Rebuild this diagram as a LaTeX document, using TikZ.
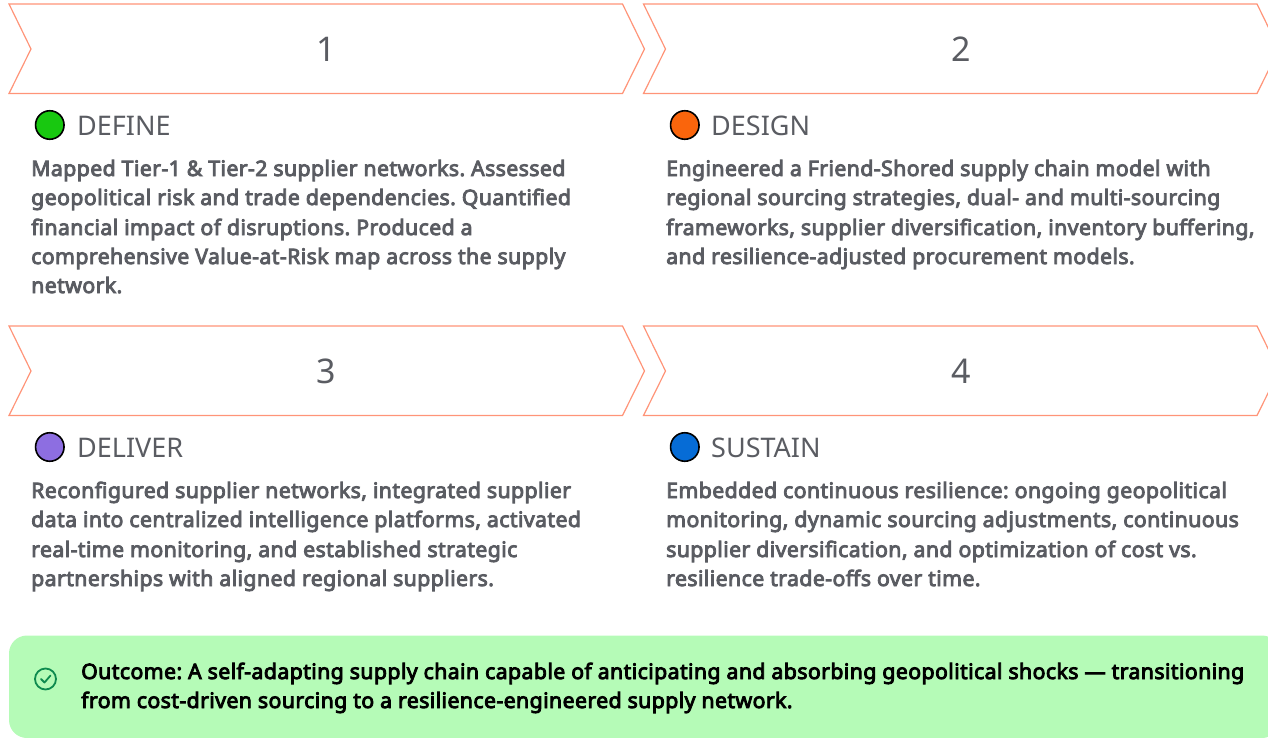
\documentclass[tikz,border=0pt]{standalone}
\usepackage{fontspec}
\setmainfont{Noto Sans}
\newfontfamily\boldish[FakeBold=4,LetterSpace=1.85]{Noto Sans}
\frenchspacing
\definecolor{chev}{HTML}{FF9478}
\definecolor{txt}{HTML}{5A5C62}
\definecolor{okbg}{HTML}{B5FBB7}
\definecolor{okic}{HTML}{0E8A4F}
\newcommand{\chevpath}[2]{(#1,#2) -- ++(22,45) -- ++(-22,44.5) -- ++(613.5,0) -- ++(22,-44.5) -- ++(-22,-45) -- cycle}
\tikzset{
  x=1pt,y=-1pt,
  chevron/.style={draw=chev,line width=1.2pt,line join=miter},
  num/.style={anchor=center,text=txt,font=\fontsize{34}{34}\selectfont,inner sep=0pt},
  dot/.style={circle,draw=black,line width=1.6pt,minimum size=28.5pt,inner sep=0pt},
  head/.style={anchor=base west,text=txt,font=\fontsize{27}{27}\selectfont,inner sep=0pt},
  body/.style={anchor=base west,text=txt,font=\boldish\fontsize{21.3}{21.3}\selectfont,inner sep=0pt},
  outc/.style={anchor=base west,text=black,font=\boldish\fontsize{21.3}{21.3}\selectfont,inner sep=0pt},
}
\begin{document}
\begin{tikzpicture}
\useasboundingbox (0,0) rectangle (1268,737);
\clip (0,0) rectangle (1268,737);
\draw[chevron] \chevpath{9}{4};
\draw[chevron] \chevpath{643.5}{4};
\draw[chevron] \chevpath{9}{326};
\draw[chevron] \chevpath{643.5}{326};
\node[num] (n1) at (326,49) {1};
\node[num] (n2) at (961,49) {2};
\node[num] (n3) at (326,371) {3};
\node[num] (n4) at (961,371) {4};
\node[dot,fill={rgb,255:red,24;green,200;blue,16}] (d1) at (49.8,125) {};
\node[dot,fill={rgb,255:red,250;green,101;blue,12}] (d2) at (684.8,125) {};
\node[dot,fill={rgb,255:red,141;green,110;blue,225}] (d3) at (49.8,447) {};
\node[dot,fill={rgb,255:red,6;green,108;blue,214}] (d4) at (684.8,447) {};
\node[head] (h1) at (77,135) {DEFINE};
\node[head] (h2) at (711,135) {DESIGN};
\node[head] (h3) at (77,457) {DELIVER};
\node[head] (h4) at (711,457) {SUSTAIN};
\node[body] (a1) at (31,176) {Mapped Tier-1 \& Tier-2 supplier networks. Assessed};
\node[body] (a2) at (31,205) {geopolitical risk and trade dependencies. Quantified};
\node[body] (a3) at (31,235) {financial impact of disruptions. Produced a};
\node[body] (a4) at (31,264) {comprehensive Value-at-Risk map across the supply};
\node[body] (a5) at (31,293) {network.};
\node[body] (b1) at (666,176) {Engineered a Friend-Shored supply chain model with};
\node[body] (b2) at (666,205) {regional sourcing strategies, dual- and multi-sourcing};
\node[body] (b3) at (666,235) {frameworks, supplier diversification, inventory buffering,};
\node[body] (b4) at (666,264) {and resilience-adjusted procurement models.};
\node[body] (c1) at (31,498) {Reconfigured supplier networks, integrated supplier};
\node[body] (c2) at (31,527) {data into centralized intelligence platforms, activated};
\node[body] (c3) at (31,557) {real-time monitoring, and established strategic};
\node[body] (c4) at (31,586) {partnerships with aligned regional suppliers.};
\node[body] (e1) at (666,498) {Embedded continuous resilience: ongoing geopolitical};
\node[body] (e2) at (666,527) {monitoring, dynamic sourcing adjustments, continuous};
\node[body] (e3) at (666,557) {supplier diversification, and optimization of cost vs.};
\node[body] (e4) at (666,586) {resilience trade-offs over time.};
\fill[okbg,rounded corners=18pt] (9,635.5) rectangle (1280,738);
\draw[okic,line width=1.8pt] (45.5,679) circle (10.5);
\draw[okic,line width=1.8pt,line cap=round,line join=round] (41,679) -- (44.5,682.5) -- (50.5,675.5);
\node[outc] (o1) at (81,679) {Outcome: A self-adapting supply chain capable of anticipating and absorbing geopolitical shocks — transitioning};
\node[outc] (o2) at (81,708) {from cost-driven sourcing to a resilience-engineered supply network.};
\end{tikzpicture}
\end{document}
